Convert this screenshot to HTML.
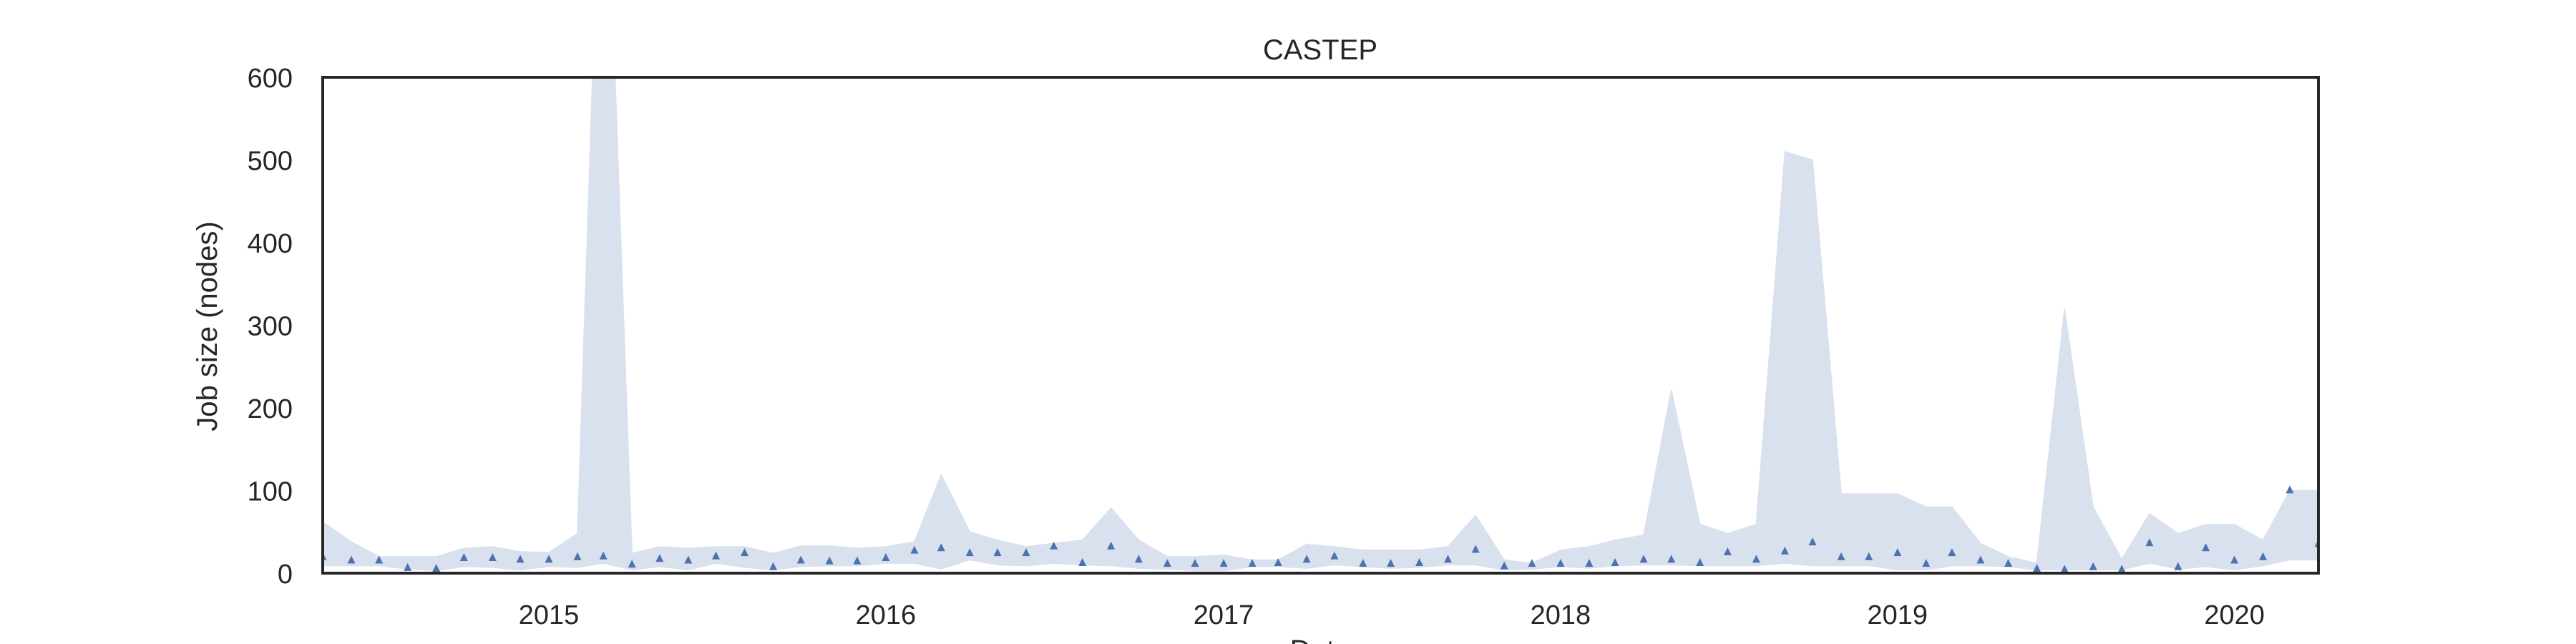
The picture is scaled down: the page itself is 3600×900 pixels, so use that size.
<!DOCTYPE html>
<html><head><meta charset="utf-8"><style>
html,body{margin:0;padding:0;background:#fff;}
svg{display:block;font-family:"Liberation Sans",Arial,sans-serif;}
</style></head><body>
<svg id="chart" width="3600" height="900" viewBox="0 0 3600 900">
<rect width="3600" height="900" fill="#fff"/>
<defs><clipPath id="plotclip"><rect x="451" y="108" width="2789" height="693"/></clipPath></defs>
<g id="bands" clip-path="url(#plotclip)"></g>
<g id="marks" clip-path="url(#plotclip)"></g>
<rect x="451" y="108" width="2789" height="693" fill="none" stroke="#262626" stroke-width="4"/>
<g id="yticks"></g>
<g id="xticks"></g>
<text x="1845" y="83" text-anchor="middle" font-size="40" fill="#262626">CASTEP</text>
<text x="0" y="0" transform="translate(303,456) rotate(-90)" text-anchor="middle" font-size="40" fill="#262626">Job size (nodes)</text>
<text x="1845" y="922" text-anchor="middle" font-size="40" fill="#262626">Date</text>
</svg>
<script>
const startYear = 2014, startMonth = 4; // May 2014 (0-based month)
const meanVals = [20,16,16,7,6,19,19,17,17,20,21,11,18,16,21,25,8,16,
15,15,19,28,31,25,25,25,33,13,33,17,12,12,12,12,13,17,
21,12,12,13,17,29,9,12,12,12,13,17,17,13,26,17,27,38,
20,20,25,12,25,16,12,6,5,8,5,37,8,31,16,20,101,36];
const upperVals = [62,38,20,20,20,30,32,26,25,48,1000,24,32,30,32,32,24,33,
33,30,32,38,119,50,40,32,36,40,79,40,20,20,22,16,16,35,
32,28,28,28,32,70,16,12,28,32,40,46,222,59,48,59,510,500,
96,96,96,80,80,36,20,12,320,80,17,72,48,59,59,40,100,100];
const lowerVals = [9,9,9,5,3,8,7,4,8,7,12,4,8,4,12,7,4,8,
9,9,12,12,5,16,10,9,12,10,9,6,5,3,3,8,8,6,
10,8,6,7,10,10,4,5,8,6,9,10,10,9,9,9,12,9,
9,9,4,4,9,9,8,4,4,4,4,12,5,8,4,9,16,16];
const yTickVals = [0,100,200,300,400,500,600];
const xTickYears = [2015,2016,2017,2018,2019,2020];

const NS = "http://www.w3.org/2000/svg";
const X0 = 451, X1 = 3240, Y0 = 801, Y1 = 108;
const tStart = Date.UTC(startYear, startMonth, 1);
const tEnd = Date.UTC(startYear, startMonth + meanVals.length - 1, 1);
function xScale(t){ return X0 + (t - tStart) / (tEnd - tStart) * (X1 - X0); }
function yScale(v){ return Y0 - v / 600 * (Y0 - Y1); }
function monthT(i){ return Date.UTC(startYear, startMonth + i, 1); }

const bands = document.getElementById('bands');
let pts = [];
for (let i = 0; i < upperVals.length; i++) pts.push(xScale(monthT(i)).toFixed(1) + ',' + yScale(upperVals[i]).toFixed(1));
for (let i = lowerVals.length - 1; i >= 0; i--) pts.push(xScale(monthT(i)).toFixed(1) + ',' + yScale(lowerVals[i]).toFixed(1));
const poly = document.createElementNS(NS, 'polygon');
poly.setAttribute('points', pts.join(' '));
poly.setAttribute('fill', '#dae1ee');
poly.setAttribute('stroke', '#dae1ee');
poly.setAttribute('stroke-width', '1.5');


bands.appendChild(poly);

const marks = document.getElementById('marks');
for (let i = 0; i < meanVals.length; i++) {
  const cx = xScale(monthT(i)), cy = yScale(meanVals[i]);
  const tri = document.createElementNS(NS, 'polygon');
  tri.setAttribute('points', `${cx-5.5},${cy+5} ${cx+5.5},${cy+5} ${cx},${cy-6}`);
  tri.setAttribute('fill', '#4c72b0');
  
  
  marks.appendChild(tri);
}

const yt = document.getElementById('yticks');
yTickVals.forEach(v => {
  const t = document.createElementNS(NS, 'text');
  t.setAttribute('x', 409);
  t.setAttribute('y', yScale(v) + 14);
  t.setAttribute('text-anchor', 'end');
  t.setAttribute('font-size', '38');
  t.setAttribute('fill', '#262626');
  
  
  t.textContent = v;
  yt.appendChild(t);
});
const xt = document.getElementById('xticks');
xTickYears.forEach(y => {
  const t = document.createElementNS(NS, 'text');
  t.setAttribute('x', xScale(Date.UTC(y, 0, 1)));
  t.setAttribute('y', 872);
  t.setAttribute('text-anchor', 'middle');
  t.setAttribute('font-size', '38');
  t.setAttribute('fill', '#262626');
  
  
  t.textContent = y;
  xt.appendChild(t);
});
</script>
</body></html>
